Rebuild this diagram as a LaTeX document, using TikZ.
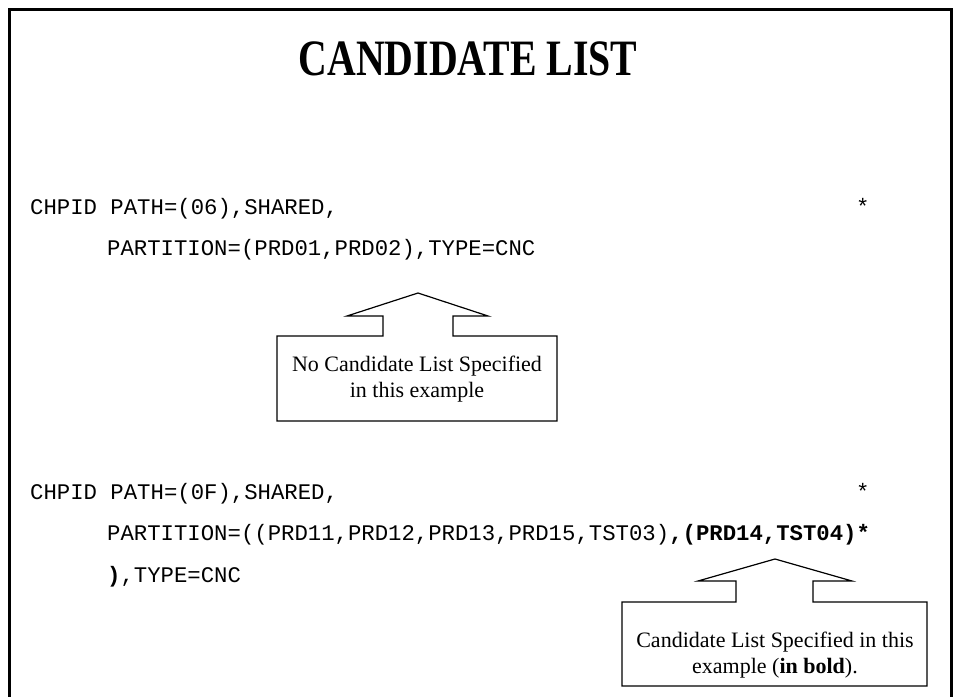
\documentclass[tikz,border=0pt]{standalone}
\usepackage{fontspec}
\usepackage{graphicx}
\setmainfont{Liberation Serif}
\setmonofont{Liberation Mono}
\begin{document}
\begin{tikzpicture}[x=1pt,y=-1pt,
  code/.style={anchor=base west, inner sep=0pt, font=\fontsize{22.3}{26}\ttfamily},
  note/.style={align=center, inner sep=0pt, font=\fontsize{22}{26}\selectfont},
  callout/.style={draw, line width=1.2pt, line join=miter}]
\useasboundingbox (0,0) rectangle (955,696);
\fill[white] (0,0) rectangle (955,696);
% slide frame (bottom edge runs off the page)
\draw[line width=3pt] (9.5,705) -- (9.5,9) -- (951,9) -- (951,705);

% heading
\node[anchor=base, inner sep=0pt] (title) at (468,75)
  {\scalebox{0.78}[1]{\fontsize{51}{51}\selectfont\bfseries CANDIDATE LIST}};

% first CHPID statement
\node[code] (c1a) at (30,214) {CHPID PATH=(06),SHARED,};
\node[code] (s1)  at (856,214) {*};
\node[code] (c1b) at (107,255) {PARTITION=(PRD01,PRD02),TYPE=CNC};

% callout for the first statement
\draw[callout] (277,336) -- (383,336) -- (383,316) -- (347,316) -- (418,293)
  -- (488,316) -- (453,316) -- (453,336) -- (557,336) -- (557,421)
  -- (277,421) -- cycle;
\node[note] (n1) at (417,379) {No Candidate List Specified\\in this example};

% second CHPID statement
\node[code] (c2a) at (30,499) {CHPID PATH=(0F),SHARED,};
\node[code] (s2)  at (856,499) {*};
\node[code] (c2b) at (107,540)
  {PARTITION=((PRD11,PRD12,PRD13,PRD15,TST03)\textbf{,(PRD14,TST04)*}};
\node[code] (c2c) at (107,582) {\textbf{)},TYPE=CNC};

% callout for the second statement
\draw[callout] (622,602) -- (736,602) -- (736,581) -- (698,581) -- (775,559)
  -- (852,581) -- (813,581) -- (813,602) -- (927,602) -- (927,686)
  -- (622,686) -- cycle;
\node[note] (n2) at (775,655) {Candidate List Specified in this\\example (\textbf{in bold}).};
\end{tikzpicture}
\end{document}
